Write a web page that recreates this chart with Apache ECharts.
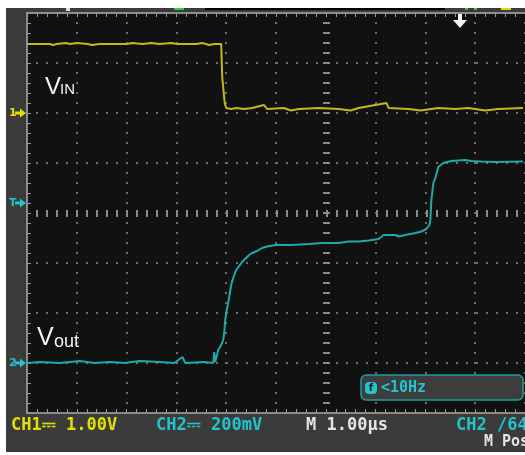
<!DOCTYPE html>
<html>
<head>
<meta charset="utf-8">
<script src="https://cdn.jsdelivr.net/npm/echarts@6/dist/echarts.min.js"></script>
<style>
  html, body { margin: 0; padding: 0; background: #ffffff; }
  #scope { width: 525px; height: 455px; }
</style>
</head>
<body>
<div id="scope"></div>
<script>
// Horizontal scale: 1.00 µs per division
const timeMin = 0;
const timeMax = 10;

// CH1 (V_IN), 1.00 V/div: sample times in µs and levels in volts
const ch1Time  = [0, 0.10, 0.14, 0.20, 0.46, 0.52, 0.60, 0.78, 0.86, 1.00, 1.22, 1.30, 1.46, 2.00, 2.12, 2.32, 2.50, 2.66, 2.90, 3.02, 3.40, 3.52, 3.66, 3.76, 3.90,
                  3.92, 3.96, 3.97, 4.00, 4.10, 4.20, 4.36, 4.52, 4.76, 4.82, 5.16, 5.30, 5.46, 5.86, 6.26, 6.50, 6.66, 7.22, 7.26, 7.66, 7.90, 8.26, 8.60, 8.86, 9.20, 9.46, 9.96];
const ch1Volts = [1.38, 1.38, 1.40, 1.38, 1.38, 1.36, 1.38, 1.40, 1.38, 1.40, 1.38, 1.36, 1.38, 1.38, 1.40, 1.38, 1.40, 1.38, 1.40, 1.38, 1.38, 1.40, 1.36, 1.38, 1.38,
                  0.72, 0.72, 0.20, 0.10, 0.08, 0.10, 0.08, 0.10, 0.16, 0.08, 0.10, 0.05, 0.08, 0.10, 0.08, 0.05, 0.10, 0.20, 0.10, 0.08, 0.05, 0.10, 0.08, 0.10, 0.05, 0.08, 0.10];

// CH2 (V_out), 200 mV/div: sample times in µs and levels in volts
const ch2Time  = [0, 0.26, 0.66, 1.06, 1.36, 1.66, 1.96, 2.26, 2.66, 2.96, 3.12, 3.18, 3.56, 3.74, 3.76, 3.78, 3.84, 3.90, 3.94, 3.96, 3.98, 4.00, 4.04, 4.06,
                  4.10, 4.14, 4.20, 4.26, 4.32, 4.40, 4.46, 4.52, 4.62, 4.72, 4.82, 5.00, 5.32, 5.66, 5.92, 6.26, 6.46, 6.66, 6.86, 7.06, 7.16, 7.40, 7.46,
                  7.60, 7.80, 7.92, 8.02, 8.08, 8.10, 8.12, 8.16, 8.20, 8.26, 8.36, 8.52, 8.80, 8.92, 9.12, 9.40, 9.96];
const ch2Volts = [0, 0.004, 0, 0.008, 0, 0.004, 0, 0.008, 0.004, 0, 0.024, 0, 0.004, 0, 0.044, 0.004, 0.052, 0.072, 0.092, 0.120, 0.172, 0.200, 0.240, 0.264,
                  0.312, 0.340, 0.372, 0.388, 0.404, 0.420, 0.432, 0.440, 0.448, 0.460, 0.466, 0.472, 0.472, 0.476, 0.480, 0.480, 0.486, 0.486, 0.490, 0.496, 0.512, 0.512, 0.506,
                  0.512, 0.520, 0.526, 0.536, 0.552, 0.572, 0.652, 0.720, 0.740, 0.784, 0.800, 0.808, 0.812, 0.808, 0.806, 0.804, 0.806];

// Channel ranges: CH1 ground sits two divisions above centre, CH2 ground three below
const ch1Min = -6, ch1Max = 2, ch1Div = 1;
const ch2Min = -0.2, ch2Max = 1.4, ch2Div = 0.2;
const triggerLevel = 0.64;      // CH2 trigger level, volts
const centreTime = 6;           // centre graticule column, µs
const centreCh1 = -2;           // centre graticule row on the CH1 scale

// Readouts along the bottom of the screen
const readCh1 = 'CH1\u2393 1.00V';
const readCh2 = 'CH2\u2393 200mV';
const readTime = 'M 1.00\u03bcs';
const readTrig = 'CH2 /640mV';
const readPos = 'M Pos';
const freqText = '<10Hz';

const YELLOW_TRACE = '#c2ba18';
const CYAN_TRACE = '#1fa9a9';
const YELLOW_TEXT = '#e3e000';
const CYAN_TEXT = '#22c4cc';
const FRAME = '#8c8c8c';
const TICKS = '#9a9a9a';
const DOTS = '#6e6e6e';
const BEZEL = '#3b3b3b';

const zip = (xs, ys) => xs.map((x, i) => [x, ys[i]]);

const chart = echarts.init(document.getElementById('scope'), null, { renderer: 'canvas' });

const frameAxis = (extra) => Object.assign({
  type: 'value',
  axisLine: { show: true, onZero: false, lineStyle: { color: FRAME, width: 2 } },
  axisTick: { show: true, inside: true, length: 4, lineStyle: { color: TICKS, width: 1 } },
  minorTick: { show: true, splitNumber: 5, length: 4, lineStyle: { color: TICKS, width: 1 } },
  axisLabel: { show: false },
  splitLine: { show: false }
}, extra);

const dotted = { show: true, lineStyle: { color: DOTS, width: 2, type: [2, 8], dashOffset: 1 } };

chart.setOption({
  animation: false,
  backgroundColor: BEZEL,
  grid: { left: 27, top: 13, width: 500, height: 400, show: true, backgroundColor: '#111111', borderWidth: 0 },
  xAxis: [
    frameAxis({ min: timeMin, max: timeMax, interval: 1, position: 'bottom', splitLine: dotted }),
    frameAxis({ min: timeMin, max: timeMax, interval: 1, position: 'top' })
  ],
  yAxis: [
    frameAxis({ min: ch1Min, max: ch1Max, interval: ch1Div, position: 'left', splitLine: dotted }),
    { type: 'value', min: ch2Min, max: ch2Max, interval: ch2Div, position: 'right', show: false }
  ],
  series: [
    {
      name: 'centre',
      type: 'line',
      data: [],
      silent: true,
      markLine: {
        silent: true,
        symbol: ['none', 'none'],
        label: { show: false },
        emphasis: { disabled: true },
        data: [
          { yAxis: centreCh1, lineStyle: { color: FRAME, width: 7, type: [2, 8], dashOffset: 1 } },
          { xAxis: centreTime, lineStyle: { color: FRAME, width: 7, type: [2, 8], dashOffset: 1 } }
        ]
      }
    },
    {
      name: 'CH1', type: 'line', xAxisIndex: 0, yAxisIndex: 0,
      data: zip(ch1Time, ch1Volts), showSymbol: false, z: 5,
      lineStyle: { color: YELLOW_TRACE, width: 2 }
    },
    {
      name: 'CH2', type: 'line', xAxisIndex: 0, yAxisIndex: 1,
      data: zip(ch2Time, ch2Volts), showSymbol: false, z: 5,
      lineStyle: { color: CYAN_TRACE, width: 2 }
    }
  ]
});

// Screen furniture placed from the axis scales
const ch1Ground = chart.convertToPixel({ yAxisIndex: 0 }, 0);
const ch2Ground = chart.convertToPixel({ yAxisIndex: 1 }, 0);
const trigY = chart.convertToPixel({ yAxisIndex: 1 }, triggerLevel);

const mono = (size) => 'bold ' + size + 'px "DejaVu Sans Mono", monospace';
const sans = (size) => size + 'px "Liberation Sans", Arial, sans-serif';

function marker(label, y, color) {
  return [
    { type: 'text', x: 9, y: y, style: { text: label, fill: color, font: 'bold 11px "DejaVu Sans", sans-serif', verticalAlign: 'middle' } },
    { type: 'polygon', shape: { points: [[15, y - 1.5], [20, y - 1.5], [20, y - 4.5], [26, y], [20, y + 4.5], [20, y + 1.5], [15, y + 1.5]] }, style: { fill: color } }
  ];
}

chart.setOption({
  graphic: [
    // paper margins
    { type: 'rect', shape: { x: 0, y: 0, width: 6, height: 455 }, style: { fill: '#ffffff' } },
    { type: 'rect', shape: { x: 0, y: 0, width: 525, height: 8 }, style: { fill: '#ffffff' } },
    { type: 'rect', shape: { x: 0, y: 452, width: 525, height: 3 }, style: { fill: '#ffffff' } },
    // status strip above the graticule
    { type: 'rect', shape: { x: 66, y: 8, width: 4, height: 3 }, style: { fill: '#dddddd' } },
    { type: 'rect', shape: { x: 174, y: 8, width: 10, height: 2 }, style: { fill: '#22dd22' } },
    { type: 'rect', shape: { x: 205, y: 8, width: 240, height: 2 }, style: { fill: '#000000' } },
    { type: 'rect', shape: { x: 465, y: 8, width: 3, height: 2 }, style: { fill: '#22dd22' } },
    { type: 'rect', shape: { x: 474, y: 8, width: 3, height: 2 }, style: { fill: '#22dd22' } },
    { type: 'rect', shape: { x: 501, y: 8, width: 10, height: 2 }, style: { fill: '#e6d800' } },
    // trigger position arrow
    { type: 'rect', shape: { x: 458, y: 13, width: 4, height: 8 }, style: { fill: '#f2f2f2' } },
    { type: 'polygon', shape: { points: [[453, 20], [467, 20], [460, 28]] }, style: { fill: '#f2f2f2' } },
    // ground and trigger markers on the left edge
    ...marker('1', ch1Ground, YELLOW_TEXT),
    ...marker('T', trigY, CYAN_TEXT),
    ...marker('2', ch2Ground, CYAN_TEXT),
    // trace names
    { type: 'text', x: 45, y: 87, style: { text: 'V', fill: '#f4f4f4', font: sans(24), verticalAlign: 'middle' } },
    { type: 'text', x: 60, y: 90, style: { text: 'IN', fill: '#f4f4f4', font: sans(15), verticalAlign: 'middle' } },
    { type: 'text', x: 37, y: 338, style: { text: 'V', fill: '#f4f4f4', font: sans(25), verticalAlign: 'middle' } },
    { type: 'text', x: 54, y: 342, style: { text: 'out', fill: '#f4f4f4', font: sans(18), verticalAlign: 'middle' } },
    // trigger frequency readout
    { type: 'rect', shape: { x: 361, y: 375, width: 162, height: 25, r: 5 }, style: { fill: '#3d3d3d', stroke: '#1a9ea4', lineWidth: 1.5 } },
    { type: 'rect', shape: { x: 365, y: 382, width: 12, height: 12, r: 4 }, style: { fill: CYAN_TEXT } },
    { type: 'text', x: 371, y: 388, style: { text: 'f', fill: '#1b1b1b', font: 'bold 10px "DejaVu Sans", sans-serif', align: 'center', verticalAlign: 'middle' } },
    { type: 'text', x: 381, y: 388, style: { text: freqText, fill: CYAN_TEXT, font: mono(15), verticalAlign: 'middle' } },
    // channel and timebase readouts
    { type: 'text', x: 11, y: 426, style: { text: readCh1, fill: YELLOW_TEXT, font: mono(17), verticalAlign: 'middle' } },
    { type: 'text', x: 156, y: 426, style: { text: readCh2, fill: CYAN_TEXT, font: mono(17), verticalAlign: 'middle' } },
    { type: 'text', x: 306, y: 426, style: { text: readTime, fill: '#e4e4e4', font: mono(17), verticalAlign: 'middle' } },
    { type: 'text', x: 456, y: 426, style: { text: readTrig, fill: CYAN_TEXT, font: mono(17), verticalAlign: 'middle' } },
    { type: 'text', x: 484, y: 442, style: { text: readPos, fill: '#e4e4e4', font: mono(15), verticalAlign: 'middle' } }
  ]
});
</script>
</body>
</html>
